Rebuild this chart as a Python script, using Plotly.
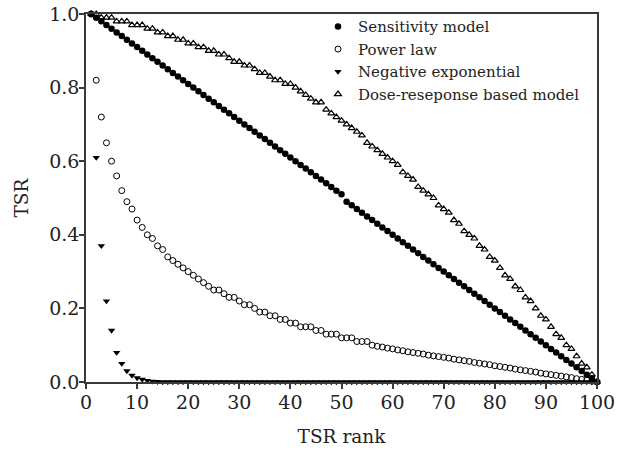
import plotly.graph_objects as go

rank = list(range(1, 101))

sensitivity = [
    1.00, 0.99, 0.98, 0.97, 0.96, 0.95, 0.94, 0.93, 0.92, 0.91,
    0.90, 0.89, 0.88, 0.87, 0.86, 0.85, 0.84, 0.83, 0.82, 0.81,
    0.80, 0.79, 0.78, 0.77, 0.76, 0.75, 0.74, 0.73, 0.72, 0.71,
    0.70, 0.69, 0.68, 0.67, 0.66, 0.65, 0.64, 0.63, 0.62, 0.61,
    0.60, 0.59, 0.58, 0.57, 0.56, 0.55, 0.54, 0.53, 0.52, 0.51,
    0.49, 0.48, 0.47, 0.46, 0.45, 0.44, 0.43, 0.42, 0.41, 0.40,
    0.39, 0.38, 0.37, 0.36, 0.35, 0.34, 0.33, 0.32, 0.31, 0.30,
    0.29, 0.28, 0.27, 0.26, 0.25, 0.24, 0.23, 0.22, 0.21, 0.20,
    0.19, 0.18, 0.17, 0.16, 0.15, 0.14, 0.13, 0.12, 0.11, 0.10,
    0.09, 0.08, 0.07, 0.06, 0.05, 0.04, 0.03, 0.02, 0.01, 0.00,
]

power_law = [
    1.00, 0.82, 0.72, 0.65, 0.60, 0.56, 0.52, 0.49, 0.47, 0.44,
    0.42, 0.40, 0.39, 0.37, 0.36, 0.34, 0.33, 0.32, 0.31, 0.30,
    0.29, 0.28, 0.27, 0.26, 0.25, 0.25, 0.24, 0.23, 0.23, 0.22,
    0.21, 0.21, 0.20, 0.19, 0.19, 0.18, 0.18, 0.17, 0.17, 0.16,
    0.16, 0.15, 0.15, 0.15, 0.14, 0.14, 0.13, 0.13, 0.13, 0.12,
    0.12, 0.12, 0.11, 0.11, 0.11, 0.100, 0.097, 0.095, 0.092, 0.090,
    0.087, 0.085, 0.082, 0.080, 0.078, 0.076, 0.073, 0.071, 0.069, 0.067,
    0.065, 0.062, 0.060, 0.058, 0.056, 0.053, 0.051, 0.049, 0.047, 0.044,
    0.042, 0.040, 0.038, 0.035, 0.033, 0.031, 0.029, 0.027, 0.024, 0.022,
    0.020, 0.018, 0.016, 0.014, 0.012, 0.009, 0.007, 0.005, 0.002, 0.000,
]

neg_exponential = [
    1.00, 0.61, 0.37, 0.22, 0.14, 0.08, 0.05, 0.03, 0.018, 0.011,
    0.007, 0.004, 0.002, 0.001, 0.0, 0.0, 0.0, 0.0, 0.0, 0.0,
    0.0, 0.0, 0.0, 0.0, 0.0, 0.0, 0.0, 0.0, 0.0, 0.0,
    0.0, 0.0, 0.0, 0.0, 0.0, 0.0, 0.0, 0.0, 0.0, 0.0,
    0.0, 0.0, 0.0, 0.0, 0.0, 0.0, 0.0, 0.0, 0.0, 0.0,
    0.0, 0.0, 0.0, 0.0, 0.0, 0.0, 0.0, 0.0, 0.0, 0.0,
    0.0, 0.0, 0.0, 0.0, 0.0, 0.0, 0.0, 0.0, 0.0, 0.0,
    0.0, 0.0, 0.0, 0.0, 0.0, 0.0, 0.0, 0.0, 0.0, 0.0,
    0.0, 0.0, 0.0, 0.0, 0.0, 0.0, 0.0, 0.0, 0.0, 0.0,
    0.0, 0.0, 0.0, 0.0, 0.0, 0.0, 0.0, 0.0, 0.0, 0.0,
]

dose_response = [
    1.00, 1.00, 0.99, 0.99, 0.99, 0.98, 0.98, 0.98, 0.97, 0.97,
    0.97, 0.96, 0.96, 0.95, 0.95, 0.94, 0.94, 0.93, 0.93, 0.92,
    0.92, 0.91, 0.91, 0.90, 0.90, 0.89, 0.89, 0.88, 0.87, 0.87,
    0.86, 0.86, 0.85, 0.84, 0.84, 0.83, 0.82, 0.82, 0.81, 0.81,
    0.80, 0.79, 0.78, 0.77, 0.76, 0.76, 0.74, 0.73, 0.72, 0.71,
    0.70, 0.69, 0.68, 0.67, 0.65, 0.64, 0.63, 0.62, 0.61, 0.60,
    0.59, 0.57, 0.56, 0.55, 0.53, 0.52, 0.51, 0.50, 0.48, 0.47,
    0.46, 0.44, 0.43, 0.41, 0.40, 0.39, 0.37, 0.36, 0.34, 0.33,
    0.31, 0.29, 0.28, 0.26, 0.25, 0.23, 0.22, 0.20, 0.18, 0.17,
    0.15, 0.13, 0.12, 0.10, 0.09, 0.07, 0.05, 0.04, 0.02, 0.00,
]

x_ticks = [0, 10, 20, 30, 40, 50, 60, 70, 80, 90, 100]
y_ticks = [0.0, 0.2, 0.4, 0.6, 0.8, 1.0]

FONT = "DejaVu Serif"
AXC = "#3a3a3a"

fig = go.Figure()
fig.add_trace(go.Scatter(
    x=rank, y=sensitivity, mode="markers", name="Sensitivity model",
    marker=dict(symbol="circle", size=6.5, color="black", line=dict(width=0)),
    cliponaxis=False))
fig.add_trace(go.Scatter(
    x=rank, y=power_law, mode="markers", name="Power law",
    marker=dict(symbol="circle-open", size=6, color="black", line=dict(width=1, color="black")),
    cliponaxis=False))
fig.add_trace(go.Scatter(
    x=rank, y=neg_exponential, mode="markers", name="Negative exponential",
    marker=dict(symbol="triangle-down", size=6.5, color="black", line=dict(width=0)),
    cliponaxis=False))
fig.add_trace(go.Scatter(
    x=rank, y=dose_response, mode="markers", name="Dose-reseponse based model",
    marker=dict(symbol="triangle-up-open", size=6, color="black", line=dict(width=1.2, color="black")),
    cliponaxis=False))

fig.update_layout(
    width=625, height=451,
    margin=dict(l=86, r=28, t=14, b=69, autoexpand=False),
    paper_bgcolor="white", plot_bgcolor="white",
    font=dict(family=FONT, size=17, color="#222222"),
    showlegend=True,
    legend=dict(
        x=0.454, y=1.01, xanchor="left", yanchor="top",
        bgcolor="rgba(0,0,0,0)", borderwidth=0,
        font=dict(family=FONT, size=15, color="#222222"),
        itemwidth=30, tracegroupgap=0,
    ),
    xaxis=dict(
        range=[0, 100], tickvals=x_ticks, ticktext=[str(v) for v in x_ticks],
        showgrid=False, zeroline=False, automargin=False,
        showline=True, linecolor=AXC, linewidth=1.5, mirror=True,
        ticks="outside", ticklen=5, tickwidth=1.5, tickcolor=AXC,
        ticklabelstandoff=-3,
        title=dict(text="TSR rank", font=dict(family=FONT, size=18.5), standoff=19),
        tickfont=dict(family=FONT, size=19),
    ),
    yaxis=dict(
        range=[0, 1.0], tickvals=y_ticks, ticktext=["%.1f" % v for v in y_ticks],
        showgrid=False, zeroline=False, automargin=False,
        showline=True, linecolor=AXC, linewidth=1.5, mirror=True,
        ticks="outside", ticklen=5, tickwidth=1.5, tickcolor=AXC,
        ticklabelstandoff=-4,
        title=dict(text="TSR", font=dict(family=FONT, size=18.5), standoff=16),
        tickfont=dict(family=FONT, size=19),
    ),
)

# remove the browser's default 8px page margin so the figure sits at the window origin
fig.write_html("out.html", config={"displayModeBar": False},
               post_script="document.body.style.margin='0px';")
